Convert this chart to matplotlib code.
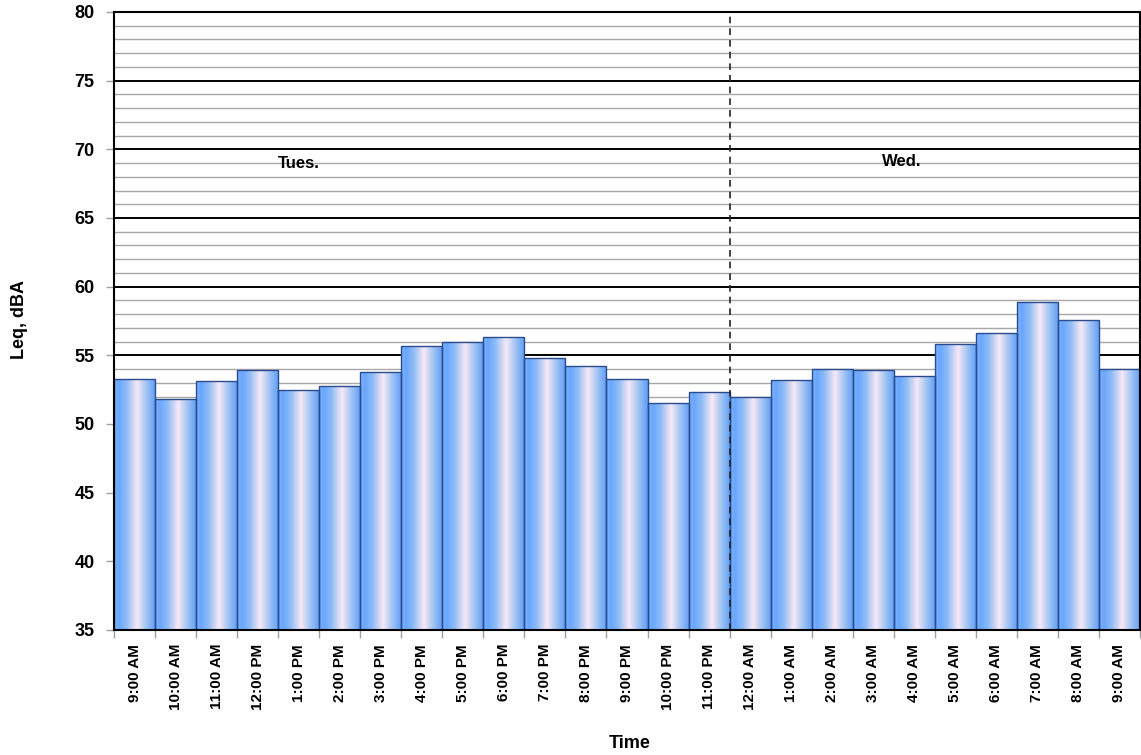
import matplotlib
matplotlib.use("Agg")
import matplotlib.pyplot as plt
import numpy as np
from matplotlib.colors import LinearSegmentedColormap

categories = ["9:00 AM", "10:00 AM", "11:00 AM", "12:00 PM", "1:00 PM", "2:00 PM",
              "3:00 PM", "4:00 PM", "5:00 PM", "6:00 PM", "7:00 PM", "8:00 PM",
              "9:00 PM", "10:00 PM", "11:00 PM", "12:00 AM", "1:00 AM", "2:00 AM",
              "3:00 AM", "4:00 AM", "5:00 AM", "6:00 AM", "7:00 AM", "8:00 AM", "9:00 AM"]
leq = [53.3, 51.8, 53.1, 53.9, 52.5, 52.8, 53.8, 55.7, 56.0, 56.3, 54.8, 54.2,
       53.3, 51.5, 52.3, 52.0, 53.2, 54.0, 53.9, 53.5, 55.8, 56.6, 58.9, 57.6, 54.0]
day_labels = ["Tues.", "Wed."]

plt.rcParams['font.family'] = ['Liberation Sans', 'DejaVu Sans']
plt.rcParams['font.weight'] = 'bold'

fig = plt.figure(figsize=(11.41, 7.55), dpi=100)
ax = fig.add_axes([114/1141, 1 - 630/755, (1140-114)/1141, (630-12)/755])

x = np.arange(len(categories))
ymin, ymax = 35, 80
ax.set_xlim(-0.5, len(categories) - 0.5)
ax.set_ylim(ymin, ymax)

# grid
for v in range(ymin + 1, ymax):
    if v % 5 == 0:
        ax.axhline(v, color='black', lw=1.4, zorder=1)
    else:
        ax.axhline(v, color='#a8a8a8', lw=1.0, zorder=1)

cmap = LinearSegmentedColormap.from_list(
    'barg', [(0.0, '#7db4ff'), (0.12, '#6aa6ff'), (0.3, '#8fbcf5'),
             (0.55, '#f8e8f6'), (0.75, '#a9c8f3'), (1.0, '#5c9cf8')])
grad = np.linspace(0, 1, 256).reshape(1, -1)

bars = ax.bar(x, leq, width=1.0, bottom=0, color='none', edgecolor='#2a4c8c',
              linewidth=1.0, zorder=3)
for b, val in zip(bars, leq):
    x0 = b.get_x()
    im = ax.imshow(grad, cmap=cmap, aspect='auto',
                   extent=[x0, x0 + b.get_width(), ymin, val],
                   zorder=2, interpolation='bilinear')
    im.set_clip_path(b)
ax.set_xlim(-0.5, len(categories) - 0.5)
ax.set_ylim(ymin, ymax)

# day separator
ax.axvline(14.5, color='#222222', lw=1.2, ls=(0, (4, 3)), zorder=4)

ax.text(4.0, 69.0, day_labels[0], ha='center', va='center', fontsize=12, fontweight='bold')
ax.text(18.7, 69.15, day_labels[1], ha='center', va='center', fontsize=12, fontweight='bold')

ax.set_yticks(range(ymin, ymax + 1, 5))
ax.set_yticklabels([str(v) for v in range(ymin, ymax + 1, 5)], fontsize=13, fontweight='bold')
ax.set_xticks(x)
ax.set_xticklabels(categories, rotation=90, fontsize=11, fontweight='bold')
ax.tick_params(axis='x', length=0, pad=10)
ax.set_xticks(np.arange(-0.5, len(categories), 1.0), minor=True)
ax.tick_params(axis='x', which='minor', length=6, color='#a0a0a0', width=1)
ax.tick_params(axis='y', length=6, color='#a0a0a0', width=1, pad=8)

for s in ax.spines.values():
    s.set_color('black')
    s.set_linewidth(1.5)
    s.set_zorder(5)

fig.text(630/1141, 1 - 743/755, 'Time', ha='center', va='center', fontsize=13, fontweight='bold')
fig.text(20/1141, 1 - 320/755, 'Leq, dBA', ha='center', va='center', rotation=90,
         fontsize=13, fontweight='bold')

fig.savefig('out.png', dpi=100)
